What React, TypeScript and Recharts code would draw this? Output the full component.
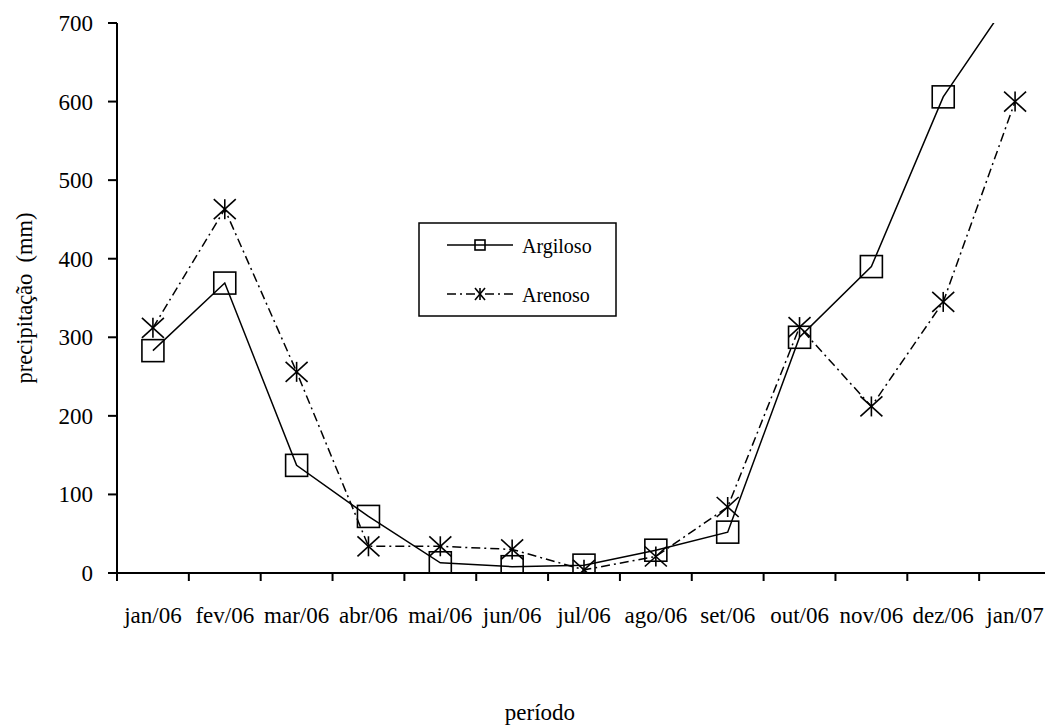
import { LineChart, Line, XAxis, YAxis, Legend } from "recharts";

const periodos = [
  "jan/06", "fev/06", "mar/06", "abr/06", "mai/06", "jun/06", "jul/06",
  "ago/06", "set/06", "out/06", "nov/06", "dez/06", "jan/07",
];
const argiloso = [283, 369, 137, 72, 13, 8, 10, 29, 52, 300, 390, 606, 740];
const arenoso = [312, 463, 256, 34, 34, 30, 4, 21, 84, 313, 212, 345, 600];
const yTicks = [0, 100, 200, 300, 400, 500, 600, 700];
const legendOrder = ["Argiloso", "Arenoso"];

const data = periodos.map((p, i) => ({
  i,
  periodo: p,
  Argiloso: argiloso[i],
  Arenoso: arenoso[i],
}));

// ticks at category centres (labels) and at category boundaries (tick marks)
const xTicks: number[] = [];
for (let k = 0; k <= periodos.length; k++) {
  xTicks.push(k - 0.5);
  if (k < periodos.length) xTicks.push(k);
}

const FONT = "'Liberation Serif', 'Times New Roman', serif";
const DASHDOT = "9 4 2 4";

function Square({ cx, cy, s = 11 }: any) {
  if (cx == null || cy == null) return null;
  return (
    <rect x={cx - s} y={cy - s} width={s * 2} height={s * 2} fill="none" stroke="#000" strokeWidth={1.6} />
  );
}

function Star({ cx, cy, w = 11, h = 10 }: any) {
  if (cx == null || cy == null) return null;
  return (
    <g stroke="#000" strokeWidth={1.6}>
      <line x1={cx - w} y1={cy - h} x2={cx + w} y2={cy + h} />
      <line x1={cx - w} y1={cy + h} x2={cx + w} y2={cy - h} />
      <line x1={cx} y1={cy - h} x2={cx} y2={cy + h} />
    </g>
  );
}

function XTick({ x, y, payload }: any) {
  const v = payload.value as number;
  if (!Number.isInteger(v)) {
    return <line x1={x} y1={y} x2={x} y2={y + 8} stroke="#000" strokeWidth={2} />;
  }
  return (
    <text x={x} y={y + 50} textAnchor="middle" fontFamily={FONT} fontSize={23} fill="#000">
      {periodos[v]}
    </text>
  );
}

function YTick({ y, payload }: any) {
  return (
    <g>
      <line x1={117} y1={y} x2={108} y2={y} stroke="#000" strokeWidth={2} />
      <text x={93} y={y + 8} textAnchor="end" fontFamily={FONT} fontSize={23} fill="#000">
        {payload.value}
      </text>
    </g>
  );
}

function LegendBox({ payload }: any) {
  const rows = [...(payload || [])].sort(
    (a: any, b: any) => legendOrder.indexOf(a.value) - legendOrder.indexOf(b.value)
  );
  return (
    <svg width={200} height={96} style={{ display: "block" }}>
      <rect x={1} y={1} width={197} height={93} fill="#fff" stroke="#000" strokeWidth={1.5} />
      {rows.map((e: any, k: number) => {
        const y = 23 + k * 49;
        const isArg = e.value === "Argiloso";
        return (
          <g key={e.value}>
            <line
              x1={29}
              y1={y}
              x2={95}
              y2={y}
              stroke="#000"
              strokeWidth={1.5}
              strokeDasharray={isArg ? undefined : DASHDOT}
            />
            {isArg ? <Square cx={62} cy={y} s={5} /> : <Star cx={62} cy={y} w={5} h={6} />}
            <text x={104} y={y + 8} fontFamily={FONT} fontSize={20} fill="#000">
              {e.value}
            </text>
          </g>
        );
      })}
    </svg>
  );
}

export default function App() {
  return (
    <div
      style={{
        position: "absolute",
        left: 0,
        top: 0,
        width: 1045,
        height: 726,
        overflow: "hidden",
        background: "#fff",
      }}
    >
      <LineChart width={1060} height={726} data={data} margin={{ top: 23, right: 9, bottom: 0, left: 0 }}>
        <XAxis
          dataKey="i"
          type="number"
          domain={[-0.5, 12.5]}
          ticks={xTicks}
          interval={0}
          height={153}
          tickSize={0}
          tickMargin={0}
          tickLine={false}
          axisLine={{ stroke: "#000", strokeWidth: 2 }}
          tick={<XTick />}
          label={() => (
            <text x={540} y={720} textAnchor="middle" fontFamily={FONT} fontSize={23} fill="#000">
              período
            </text>
          )}
        />
        <YAxis
          domain={[0, 700]}
          ticks={yTicks}
          allowDataOverflow
          width={117}
          tickLine={false}
          axisLine={{ stroke: "#000", strokeWidth: 2 }}
          tick={<YTick />}
          label={() => (
            <text
              x={24}
              y={298}
              transform="rotate(-90 24 298)"
              textAnchor="middle"
              dominantBaseline="central"
              fontFamily={FONT}
              fontSize={22.5}
              fill="#000"
            >
              {"precipitação\u00a0 (mm)"}
            </text>
          )}
        />
        <Legend
          layout="horizontal"
          verticalAlign="middle"
          align="center"
          content={<LegendBox />}
          wrapperStyle={{ position: "absolute", left: 418, top: 222, width: 200, height: 96 }}
        />
        <Line
          dataKey="Arenoso"
          stroke="#000"
          strokeWidth={1.5}
          strokeDasharray={DASHDOT}
          dot={(p: any) => <Star key={`s${p.index}`} cx={p.cx} cy={p.cy} />}
          activeDot={false}
          isAnimationActive={false}
        />
        <Line
          dataKey="Argiloso"
          stroke="#000"
          strokeWidth={1.5}
          dot={(p: any) => <Square key={`q${p.index}`} cx={p.cx} cy={p.cy} />}
          activeDot={false}
          isAnimationActive={false}
        />
      </LineChart>
    </div>
  );
}
